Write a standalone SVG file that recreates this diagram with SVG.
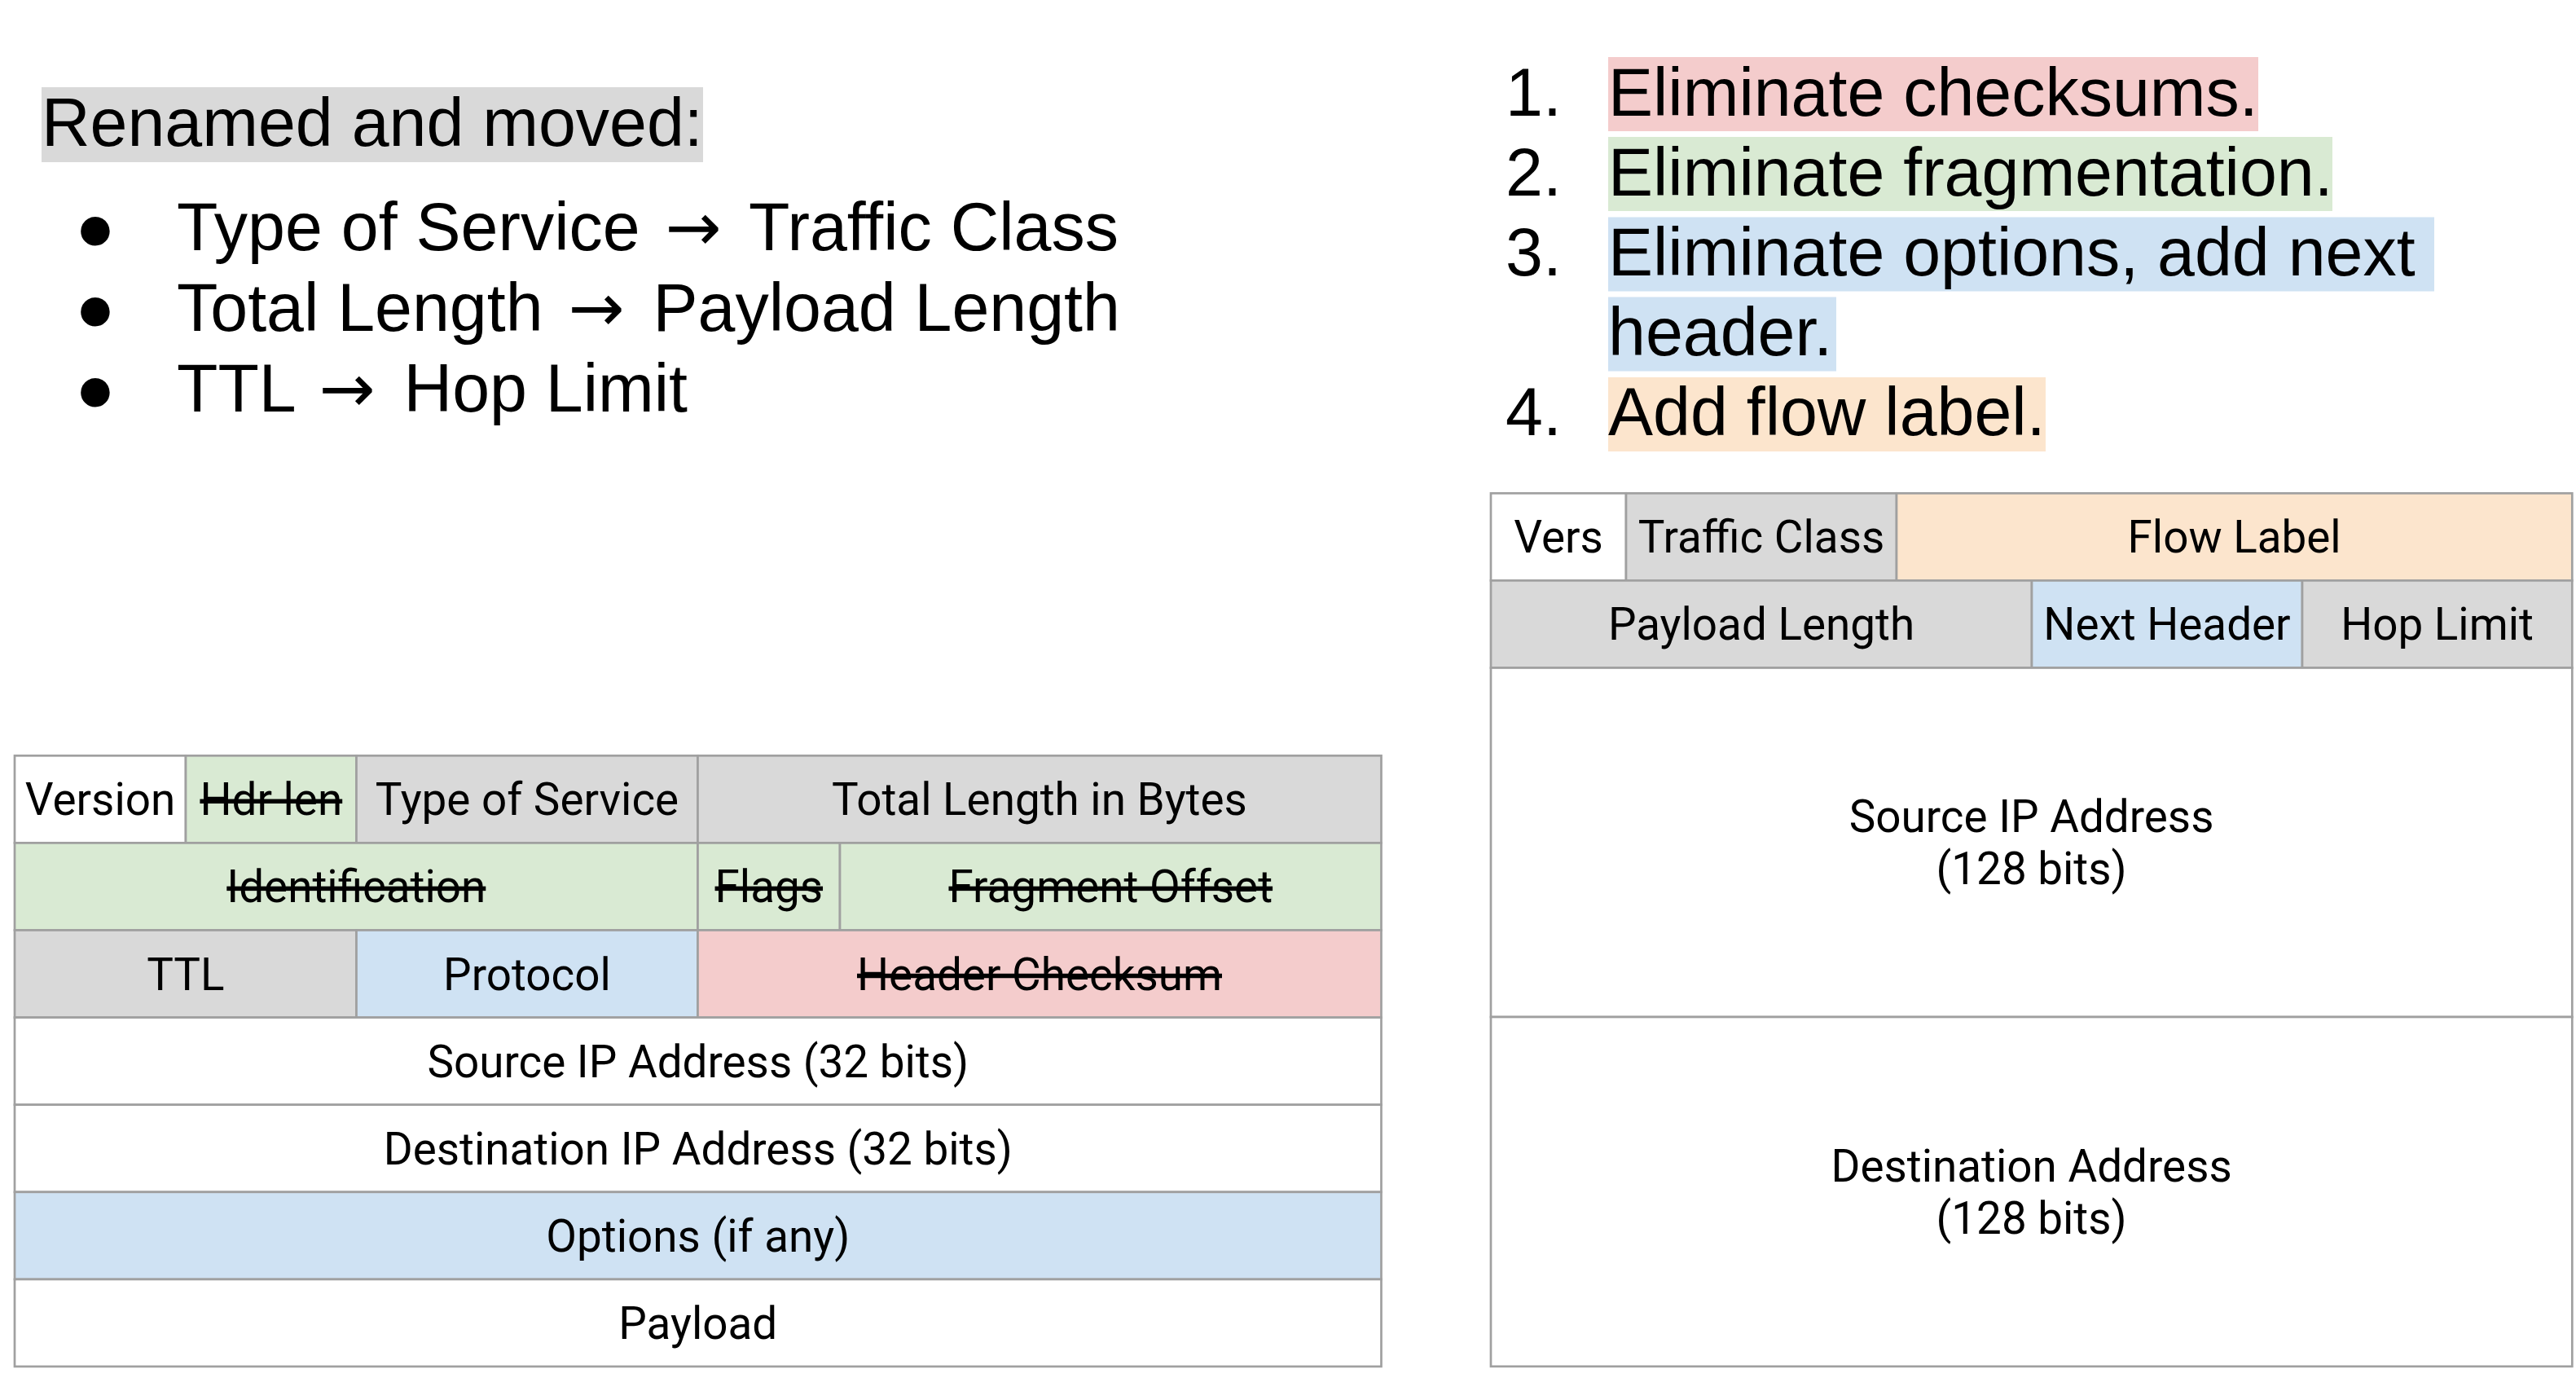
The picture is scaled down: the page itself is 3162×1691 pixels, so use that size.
<svg xmlns="http://www.w3.org/2000/svg" width="3162" height="1691" viewBox="0 0 3162 1691">
<style>
  .bg{fill:#ffffff}
  .cell{stroke:#a0a0a0;stroke-width:2.7}
  .w{fill:#ffffff}
  .g{fill:#d9d9d9}
  .gr{fill:#d9ead3}
  .b{fill:#cfe2f3}
  .r{fill:#f4cccc}
  .o{fill:#fce5cd}
  .t{font-family:Roboto,"Liberation Sans",sans-serif;font-size:54.8px;fill:#000;text-anchor:middle}
  .s{text-decoration:line-through}
  .l{font-family:"Liberation Sans",Arial,sans-serif;font-size:82.5px;fill:#000}
  .arr{font-family:"DejaVu Sans","Liberation Sans",sans-serif}
  .bul{font-family:"Liberation Sans",Arial,"DejaVu Sans",sans-serif;font-size:82.5px;fill:#000;text-anchor:middle}
</style>
<rect class="bg" x="0" y="0" width="3162" height="1691"/>

<g id="renamed-list">
  <rect x="51" y="107" width="812" height="92" fill="#d9d9d9"/>
  <text class="l" x="51" y="179">Renamed and moved:</text>
  <text class="bul" x="117" y="307">●</text>
  <text class="l" x="217" y="307">Type of Service <tspan class="arr" dx="8">→</tspan><tspan dx="12"> Traffic Class</tspan></text>
  <text class="bul" x="117" y="406">●</text>
  <text class="l" x="217" y="406">Total Length <tspan class="arr" dx="8">→</tspan><tspan dx="12"> Payload Length</tspan></text>
  <text class="bul" x="117" y="505">●</text>
  <text class="l" x="217" y="505">TTL <tspan class="arr" dx="8">→</tspan><tspan dx="12"> Hop Limit</tspan></text>
</g>

<g id="changes-list">
  <rect x="1974" y="70" width="798" height="91" fill="#f4cccc"/>
  <rect x="1974" y="168" width="889" height="91" fill="#d9ead3"/>
  <rect x="1974" y="266.5" width="1014" height="91" fill="#cfe2f3"/>
  <rect x="1974" y="364.5" width="280" height="91" fill="#cfe2f3"/>
  <rect x="1974" y="463" width="537" height="91" fill="#fce5cd"/>
  <text class="l" x="1848" y="141.5">1.</text>
  <text class="l" x="1974" y="141.5">Eliminate checksums.</text>
  <text class="l" x="1848" y="239.7">2.</text>
  <text class="l" x="1974" y="239.7">Eliminate fragmentation.</text>
  <text class="l" x="1848" y="337.9">3.</text>
  <text class="l" x="1974" y="337.9">Eliminate options, add next</text>
  <text class="l" x="1974" y="436.1">header.</text>
  <text class="l" x="1848" y="534.3">4.</text>
  <text class="l" x="1974" y="534.3">Add flow label.</text>
</g>

<g id="ipv4-header">
  <g id="v4-version"><rect class="cell w" x="18" y="927.3" width="210" height="107.1"/><text class="t" x="123" y="1000.3">Version</text></g>
  <g id="v4-hdrlen"><rect class="cell gr" x="228" y="927.3" width="209.5" height="107.1"/><text class="t s" x="332.8" y="1000.3">Hdr len</text></g>
  <g id="v4-tos"><rect class="cell g" x="437.5" y="927.3" width="419" height="107.1"/><text class="t" x="647" y="1000.3">Type of Service</text></g>
  <g id="v4-totlen"><rect class="cell g" x="856.5" y="927.3" width="839" height="107.1"/><text class="t" x="1276" y="1000.3">Total Length in Bytes</text></g>

  <g id="v4-ident"><rect class="cell gr" x="18" y="1034.4" width="838.5" height="107.1"/><text class="t s" x="437.3" y="1107.4">Identification</text></g>
  <g id="v4-flags"><rect class="cell gr" x="856.5" y="1034.4" width="174.5" height="107.1"/><text class="t s" x="943.8" y="1107.4">Flags</text></g>
  <g id="v4-fragoff"><rect class="cell gr" x="1031" y="1034.4" width="664.5" height="107.1"/><text class="t s" x="1363.3" y="1107.4">Fragment Offset</text></g>

  <g id="v4-ttl"><rect class="cell g" x="18" y="1141.5" width="419.5" height="107.1"/><text class="t" x="227.8" y="1214.5">TTL</text></g>
  <g id="v4-proto"><rect class="cell b" x="437.5" y="1141.5" width="419" height="107.1"/><text class="t" x="647" y="1214.5">Protocol</text></g>
  <g id="v4-csum"><rect class="cell r" x="856.5" y="1141.5" width="839" height="107.1"/><text class="t s" x="1276" y="1214.5">Header Checksum</text></g>

  <g id="v4-src"><rect class="cell w" x="18" y="1248.6" width="1677.5" height="107.1"/><text class="t" x="856.8" y="1321.6">Source IP Address (32 bits)</text></g>
  <g id="v4-dst"><rect class="cell w" x="18" y="1355.7" width="1677.5" height="107.1"/><text class="t" x="856.8" y="1428.7">Destination IP Address (32 bits)</text></g>
  <g id="v4-opts"><rect class="cell b" x="18" y="1462.8" width="1677.5" height="107.1"/><text class="t" x="856.8" y="1535.8">Options (if any)</text></g>
  <g id="v4-payload"><rect class="cell w" x="18" y="1569.9" width="1677.5" height="107"/><text class="t" x="856.8" y="1642.9">Payload</text></g>
</g>

<g id="ipv6-header">
  <g id="v6-vers"><rect class="cell w" x="1830" y="605.3" width="166" height="107.1"/><text class="t" x="1913" y="678.3">Vers</text></g>
  <g id="v6-tc"><rect class="cell g" x="1996" y="605.3" width="332" height="107.1"/><text class="t" x="2162" y="678.3">Traffic Class</text></g>
  <g id="v6-flow"><rect class="cell o" x="2328" y="605.3" width="829.3" height="107.1"/><text class="t" x="2742.6" y="678.3">Flow Label</text></g>

  <g id="v6-plen"><rect class="cell g" x="1830" y="712.4" width="664" height="107.1"/><text class="t" x="2162" y="785.4">Payload Length</text></g>
  <g id="v6-nh"><rect class="cell b" x="2494" y="712.4" width="332" height="107.1"/><text class="t" x="2660" y="785.4">Next Header</text></g>
  <g id="v6-hop"><rect class="cell g" x="2826" y="712.4" width="331.3" height="107.1"/><text class="t" x="2991.6" y="785.4">Hop Limit</text></g>

  <g id="v6-src"><rect class="cell w" x="1830" y="819.5" width="1327.3" height="428.5"/><text class="t" x="2493.6" y="1020.5">Source IP Address</text><text class="t" x="2493.6" y="1084.5">(128 bits)</text></g>
  <g id="v6-dst"><rect class="cell w" x="1830" y="1248" width="1327.3" height="428.8"/><text class="t" x="2493.6" y="1450">Destination Address</text><text class="t" x="2493.6" y="1514">(128 bits)</text></g>
</g>

<g id="connectors"></g>
</svg>
